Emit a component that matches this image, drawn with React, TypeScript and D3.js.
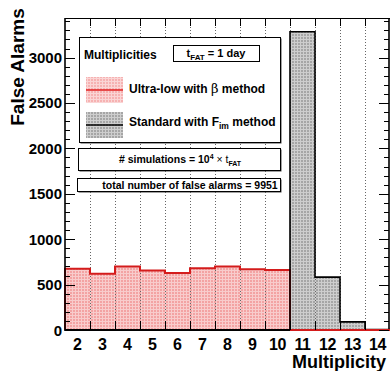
import React, { useEffect, useRef } from 'react';
import * as d3 from 'd3';

// chart data
const multiplicities = ['2', '3', '4', '5', '6', '7', '8', '9', '10', '11', '12', '13', '14'];
const ultraLowCounts = [675, 620, 700, 655, 627, 681, 700, 670, 660, 0, 0, 0, 0];
const standardCounts = [0, 0, 0, 0, 0, 0, 0, 0, 0, 3285, 582, 90, 6];
const yTickValues = [0, 500, 1000, 1500, 2000, 2500, 3000];
const totalFalseAlarms = 9951;

const FONT = '"Liberation Sans", Arial, Helvetica, sans-serif';
const RED_FILL = '#f3a3a3';
const GRAY_FILL = '#a6a6a6';

const App = () => {
    const ref = useRef<SVGSVGElement>(null);

    useEffect(() => {
        const svg = d3.select(ref.current);
        svg.selectAll('*').remove();

        //frame
        const left = 65, right = 390, top = 18, bottom = 330;

        const x = d3.scaleBand<string>()
            .domain(multiplicities)
            .range([left, right])
            .padding(0);
        const y = d3.scaleLinear()
            .domain([0, 3436])
            .range([bottom, top]);

        //dotted overlay (root style fill pattern)
        const defs = svg.append('defs');
        const dots = defs.append('pattern')
            .attr('id', 'dotOverlay')
            .attr('width', 3).attr('height', 3)
            .attr('patternUnits', 'userSpaceOnUse');
        dots.append('rect').attr('width', 1).attr('height', 3).attr('fill', '#fff').attr('fill-opacity', 0.45);
        dots.append('rect').attr('x', 1).attr('width', 2).attr('height', 1).attr('fill', '#fff').attr('fill-opacity', 0.45);

        svg.append('rect')
            .attr('x', left).attr('y', top)
            .attr('width', right - left).attr('height', bottom - top)
            .attr('fill', '#fff');

        //bins -> step points
        const edge = (i) => (i < multiplicities.length ? x(multiplicities[i]) : right);
        const stepPoints = (values, from, to) => {
            const pts = [[edge(from), y(0)]];
            for (let i = from; i < to; i++) {
                pts.push([edge(i), y(values[i])]);
                pts.push([edge(i + 1), y(values[i])]);
            }
            pts.push([edge(to), y(0)]);
            return pts;
        };
        const line = d3.line();

        const redArea = stepPoints(ultraLowCounts, 0, multiplicities.length);
        const grayArea = stepPoints(standardCounts, 9, multiplicities.length);

        svg.append('path').attr('d', line(redArea) + 'Z').attr('fill', RED_FILL);
        svg.append('path').attr('d', line(grayArea) + 'Z').attr('fill', GRAY_FILL);
        svg.append('path').attr('d', line(redArea) + 'Z').attr('fill', 'url(#dotOverlay)');
        svg.append('path').attr('d', line(grayArea) + 'Z').attr('fill', 'url(#dotOverlay)');

        //dotted grid at bin edges
        const gridEdges = multiplicities.slice(1).map(m => x(m));
        svg.append('g').selectAll('line').data(gridEdges).enter()
            .append('line')
            .attr('x1', d => d + 0.5).attr('x2', d => d + 0.5)
            .attr('y1', top).attr('y2', bottom)
            .attr('stroke', '#666')
            .attr('stroke-width', 1)
            .attr('stroke-dasharray', '1,2');

        //outlines
        svg.append('path')
            .attr('d', line(redArea))
            .attr('fill', 'none')
            .attr('stroke', '#d41c1c')
            .attr('stroke-width', 2);
        svg.append('path')
            .attr('d', line(grayArea))
            .attr('fill', 'none')
            .attr('stroke', '#000')
            .attr('stroke-width', 1.6);

        //frame lines
        const frame = svg.append('g').attr('stroke', '#000');
        frame.append('line').attr('x1', left).attr('x2', left).attr('y1', top).attr('y2', bottom + 1).attr('stroke-width', 1.6);
        frame.append('line').attr('x1', left).attr('x2', right).attr('y1', top + 0.5).attr('y2', top + 0.5).attr('stroke-width', 1);
        frame.append('line').attr('x1', right - 1).attr('x2', right - 1).attr('y1', top).attr('y2', bottom).attr('stroke-width', 1.6);
        frame.append('line').attr('x1', left).attr('x2', edge(9)).attr('y1', bottom).attr('y2', bottom).attr('stroke-width', 2);
        svg.append('line').attr('x1', edge(9)).attr('x2', right).attr('y1', bottom).attr('y2', bottom)
            .attr('stroke', '#d41c1c').attr('stroke-width', 2);

        //y ticks (left and right)
        const minor = d3.range(0, 3401, 100);
        const ticks = svg.append('g').attr('stroke', '#000').attr('stroke-width', 1);
        minor.forEach(v => {
            const major = v % 500 === 0;
            const len = major ? 10 : 5;
            const yy = Math.round(y(v)) + 0.5;
            ticks.append('line').attr('x1', left).attr('x2', left + len).attr('y1', yy).attr('y2', yy);
            ticks.append('line').attr('x1', right - 1).attr('x2', right - 1 - len).attr('y1', yy).attr('y2', yy);
        });

        //x ticks at bin edges (bottom and top)
        gridEdges.forEach(e => {
            ticks.append('line').attr('x1', e + 0.5).attr('x2', e + 0.5).attr('y1', bottom).attr('y2', bottom - 9);
            ticks.append('line').attr('x1', e + 0.5).attr('x2', e + 0.5).attr('y1', top).attr('y2', top + 8);
        });

        //y tick labels
        svg.append('g').selectAll('text').data(yTickValues).enter()
            .append('text')
            .attr('x', left - 3)
            .attr('y', d => y(d) + 5.5)
            .attr('text-anchor', 'end')
            .attr('font-family', FONT)
            .attr('font-weight', 'bold')
            .attr('font-size', 15)
            .text(d => d);

        //x tick labels
        svg.append('g').selectAll('text').data(multiplicities).enter()
            .append('text')
            .attr('x', d => x(d) + x.bandwidth() / 2)
            .attr('y', 350)
            .attr('text-anchor', 'middle')
            .attr('font-family', FONT)
            .attr('font-weight', 'bold')
            .attr('font-size', 16)
            .attr('letter-spacing', d => (d.length > 1 ? -0.5 : 0))
            .text(d => d);

        //axis titles
        svg.append('text')
            .attr('x', 386).attr('y', 368)
            .attr('text-anchor', 'end')
            .attr('font-family', FONT)
            .attr('font-weight', 'bold')
            .attr('font-size', 18)
            .text('Multiplicity');
        svg.append('text')
            .attr('transform', 'translate(24,67) rotate(-90)')
            .attr('text-anchor', 'middle')
            .attr('font-family', FONT)
            .attr('font-weight', 'bold')
            .attr('font-size', 19)
            .text('False Alarms');

        //boxes with shadow
        const pave = (bx, by, bw, bh) => {
            svg.append('rect').attr('x', bx + 1.5).attr('y', by + 1.5).attr('width', bw).attr('height', bh).attr('fill', '#444');
            svg.append('rect').attr('x', bx + 0.5).attr('y', by + 0.5).attr('width', bw).attr('height', bh)
                .attr('fill', '#fff').attr('stroke', '#000').attr('stroke-width', 1);
        };
        const label = (tx, ty, size, anchor = 'start') => svg.append('text')
            .attr('x', tx).attr('y', ty)
            .attr('text-anchor', anchor)
            .attr('font-family', FONT)
            .attr('font-weight', 'bold')
            .attr('font-size', size);

        //legend
        pave(79, 37, 201, 105);
        label(84, 59, 12).text('Multiplicities');

        svg.append('rect').attr('x', 173.5).attr('y', 45.5).attr('width', 86).attr('height', 16)
            .attr('fill', '#fff').attr('stroke', '#000');
        const tfat = label(216, 57, 11, 'middle');
        tfat.append('tspan').text('t');
        tfat.append('tspan').attr('font-size', 8).attr('dy', 3).text('FAT');
        tfat.append('tspan').attr('dy', -3).text(' = 1 day');

        //legend swatches
        const swatch = (sy, fill, stroke) => {
            svg.append('rect').attr('x', 86).attr('y', sy).attr('width', 37).attr('height', 26).attr('fill', fill);
            svg.append('rect').attr('x', 86).attr('y', sy).attr('width', 37).attr('height', 26).attr('fill', 'url(#dotOverlay)');
            svg.append('line').attr('x1', 86).attr('x2', 123).attr('y1', sy + 13).attr('y2', sy + 13)
                .attr('stroke', stroke).attr('stroke-width', 1.5);
        };
        swatch(77, '#f6b2b2', '#e01e1e');
        swatch(112, GRAY_FILL, '#000');

        const ul = label(129, 93, 12);
        ul.append('tspan').text('Ultra-low with ');
        ul.append('tspan').attr('font-weight', 'normal').attr('font-size', 13).attr('font-family', '"DejaVu Serif", serif').text('\u03b2');
        ul.append('tspan').text(' method');

        const st = label(129, 126, 12);
        st.append('tspan').text('Standard with F');
        st.append('tspan').attr('font-size', 8.5).attr('dy', 3).text('im');
        st.append('tspan').attr('dy', -3).text(' method');

        //simulations box
        pave(78, 148, 202, 22);
        const sim = label(180, 163, 10.5, 'middle');
        sim.append('tspan').text('# simulations = 10');
        sim.append('tspan').attr('font-size', 7).attr('dy', -4).text('4');
        sim.append('tspan').attr('dy', 4).attr('font-weight', 'normal').text(' \u00d7 t');
        sim.append('tspan').attr('font-size', 7).attr('dy', 3).text('FAT');

        //total box
        pave(77, 178, 203, 13);
        label(190, 189, 10.5, 'middle').text(`total number of false alarms = ${totalFalseAlarms}`);
    }, []);

    return (
        <svg ref={ref} width={390} height={371}
            style={{ position: 'absolute', left: 0, top: 0, background: '#fff' }} />
    );
};

export default App;
